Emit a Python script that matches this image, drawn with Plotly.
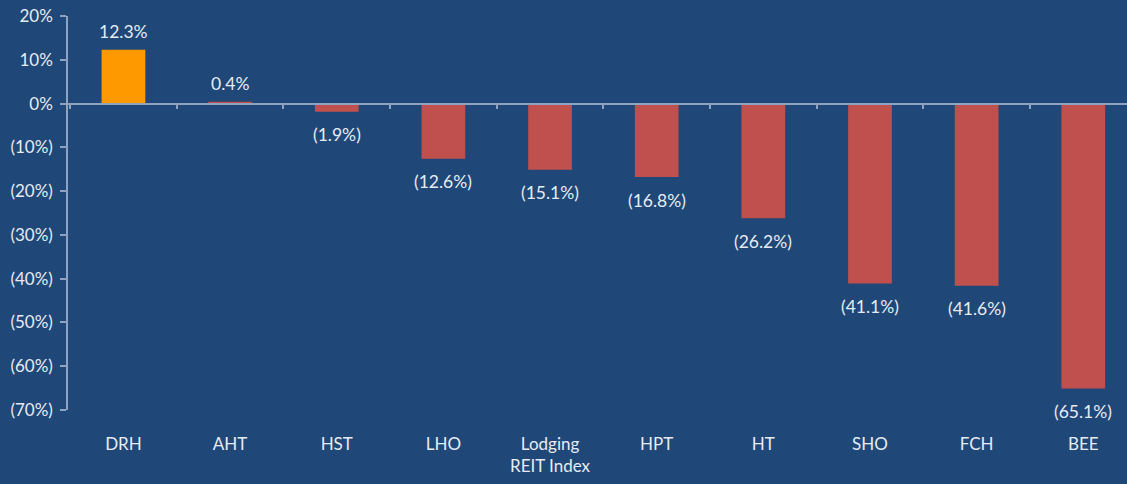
import plotly.graph_objects as go

categories = ["DRH", "AHT", "HST", "LHO", "Lodging<br>REIT Index", "HPT", "HT", "SHO", "FCH", "BEE"]
values = [12.3, 0.4, -1.9, -12.6, -15.1, -16.8, -26.2, -41.1, -41.6, -65.1]
bar_colors = ["#FF9900"] + ["#C0504D"] * 9
y_tickvals = [20, 10, 0, -10, -20, -30, -40, -50, -60, -70]
y_ticktext = ["20%", "10%", "0%", "(10%)", "(20%)", "(30%)", "(40%)", "(50%)", "(60%)", "(70%)"]

labels = [f"{v:.1f}%" if v >= 0 else f"({abs(v):.1f}%)" for v in values]

BG = "#1F4777"
TXT = "#E6ECF4"
AX = "#8FA3C0"
FONT = "Lato"

fig = go.Figure()
fig.add_trace(go.Bar(
    x=categories, y=values, marker=dict(color=bar_colors, line=dict(width=0)),
    width=0.41, showlegend=False, hoverinfo="skip",
))
# invisible trace to carry the zero-line axis
fig.add_trace(go.Bar(x=categories, y=[0] * len(categories), xaxis="x2",
                     marker=dict(opacity=0), showlegend=False, hoverinfo="skip"))

for c, v, t in zip(categories, values, labels):
    fig.add_annotation(
        x=c, y=v, text=t, showarrow=False, yanchor="middle",
        yshift=18 if v >= 0 else -23,
        font=dict(color=TXT, size=17.5, family=FONT),
    )

fig.update_layout(
    width=1127, height=484,
    paper_bgcolor=BG, plot_bgcolor=BG,
    margin=dict(l=68, r=0, t=16, b=74),
    font=dict(family=FONT, color=TXT, size=17),
    xaxis=dict(
        type="category", range=[-0.52, 9.41], showline=False, showgrid=False,
        zeroline=False, ticks="", tickfont=dict(size=17, color=TXT, family=FONT),
        ticklabelstandoff=22,
    ),
    xaxis2=dict(
        type="category", matches="x", overlaying="x", anchor="free",
        position=70 / 90, showline=True, linecolor=AX, linewidth=1.5,
        ticks="outside", tickson="boundaries", ticklen=5, tickcolor=AX,
        tickwidth=1.5, showticklabels=False, showgrid=False, zeroline=False,
    ),
    yaxis=dict(
        range=[-70, 20], tickvals=y_tickvals, ticktext=y_ticktext,
        showline=True, linecolor=AX, linewidth=1.5, ticks="outside",
        ticklen=6, tickcolor=AX, tickwidth=1.5, showgrid=False,
        zeroline=False, tickfont=dict(size=17, color=TXT, family=FONT),
        ticklabelstandoff=4,
    ),
)

fig.write_html("out.html")
